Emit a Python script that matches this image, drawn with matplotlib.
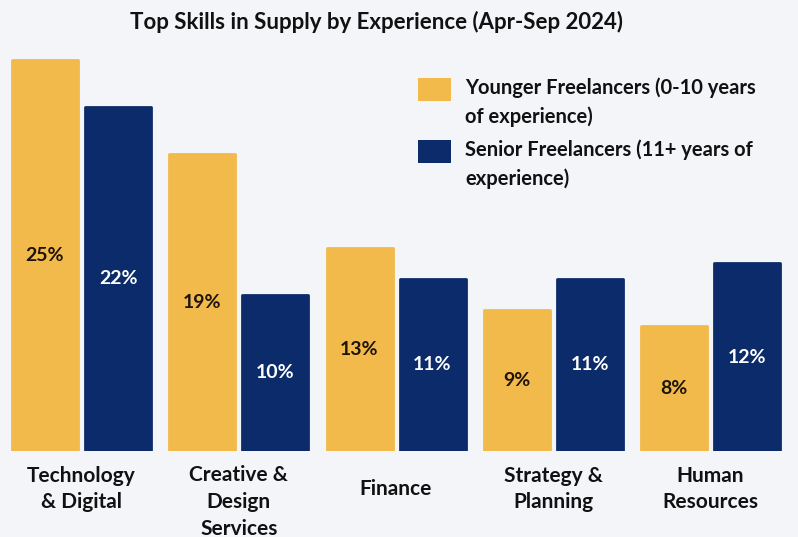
import matplotlib
matplotlib.use("Agg")
import matplotlib.pyplot as plt
import numpy as np

categories = ["Technology\n& Digital", "Creative &\nDesign\nServices", "Finance",
              "Strategy &\nPlanning", "Human\nResources"]
younger = [25, 19, 13, 9, 8]
senior = [22, 10, 11, 11, 12]
series_names = ["Younger Freelancers (0-10 years\nof experience)",
                "Senior Freelancers (11+ years of\nexperience)"]
title = "Top Skills in Supply by Experience (Apr-Sep 2024)"

YELLOW = "#F2B94B"
NAVY = "#0C2B6B"
BG = "#F4F5F9"
plt.rcParams['font.family'] = ['Lato', 'DejaVu Sans']

W, H = 798, 537
fig = plt.figure(figsize=(W/100, H/100), dpi=100, facecolor=BG)
ax = fig.add_axes([0, 86/H, 1, 26*15.65/H])
ax.set_facecolor(BG)
pitch = 157.25
ax.set_xlim(-81.5/pitch, (W-81.5)/pitch)
ax.set_ylim(0, 26)
for s in ax.spines.values():
    s.set_visible(False)
ax.set_xticks([]); ax.set_yticks([])

x = np.arange(len(categories))
bw = 66/pitch
off = 73/2/pitch
ax.bar(x-off, younger, bw, color=YELLOW, edgecolor=YELLOW, linewidth=2, joinstyle='round')
ax.bar(x+off, senior, bw, color=NAVY, edgecolor=NAVY, linewidth=2, joinstyle='round')

for xi, v in zip(x-off, younger):
    ax.text(xi, v/2, f"{v}%", ha='center', va='center', fontsize=14, fontweight='bold', color='#1E1408')
for xi, v in zip(x+off, senior):
    ax.text(xi, v/2, f"{v}%", ha='center', va='center', fontsize=14, fontweight='bold', color='white')

blend = matplotlib.transforms.blended_transform_factory(ax.transData, fig.transFigure)
for xi, c in zip(x, categories):
    n = c.count("\n") + 1
    yc = 489 if n == 1 else 476 + (n-1)*13
    ax.text(xi, 1-yc/H, c, ha='center', va='center', fontsize=15, fontweight='bold', color='#111111',
            linespacing=1.43, transform=blend)

fig.text(377/W, 1-22/H, title, ha='center', va='center', fontsize=16, fontweight='bold', color='#111111')

# legend
for i, (name, col) in enumerate(zip(series_names, [YELLOW, NAVY])):
    y0 = 78 + i*61.5
    fig.patches.append(plt.Rectangle((418/W, 1-(y0+23)/H), 33/W, 23/H, transform=fig.transFigure,
                                     facecolor=col, edgecolor='none'))
    fig.text(465/W, 1-(102+i*62)/H, name, ha='left', va='center', fontsize=14.5, fontweight='bold',
             color='#111111', linespacing=1.48)

fig.savefig("out.png", dpi=100, facecolor=BG)
